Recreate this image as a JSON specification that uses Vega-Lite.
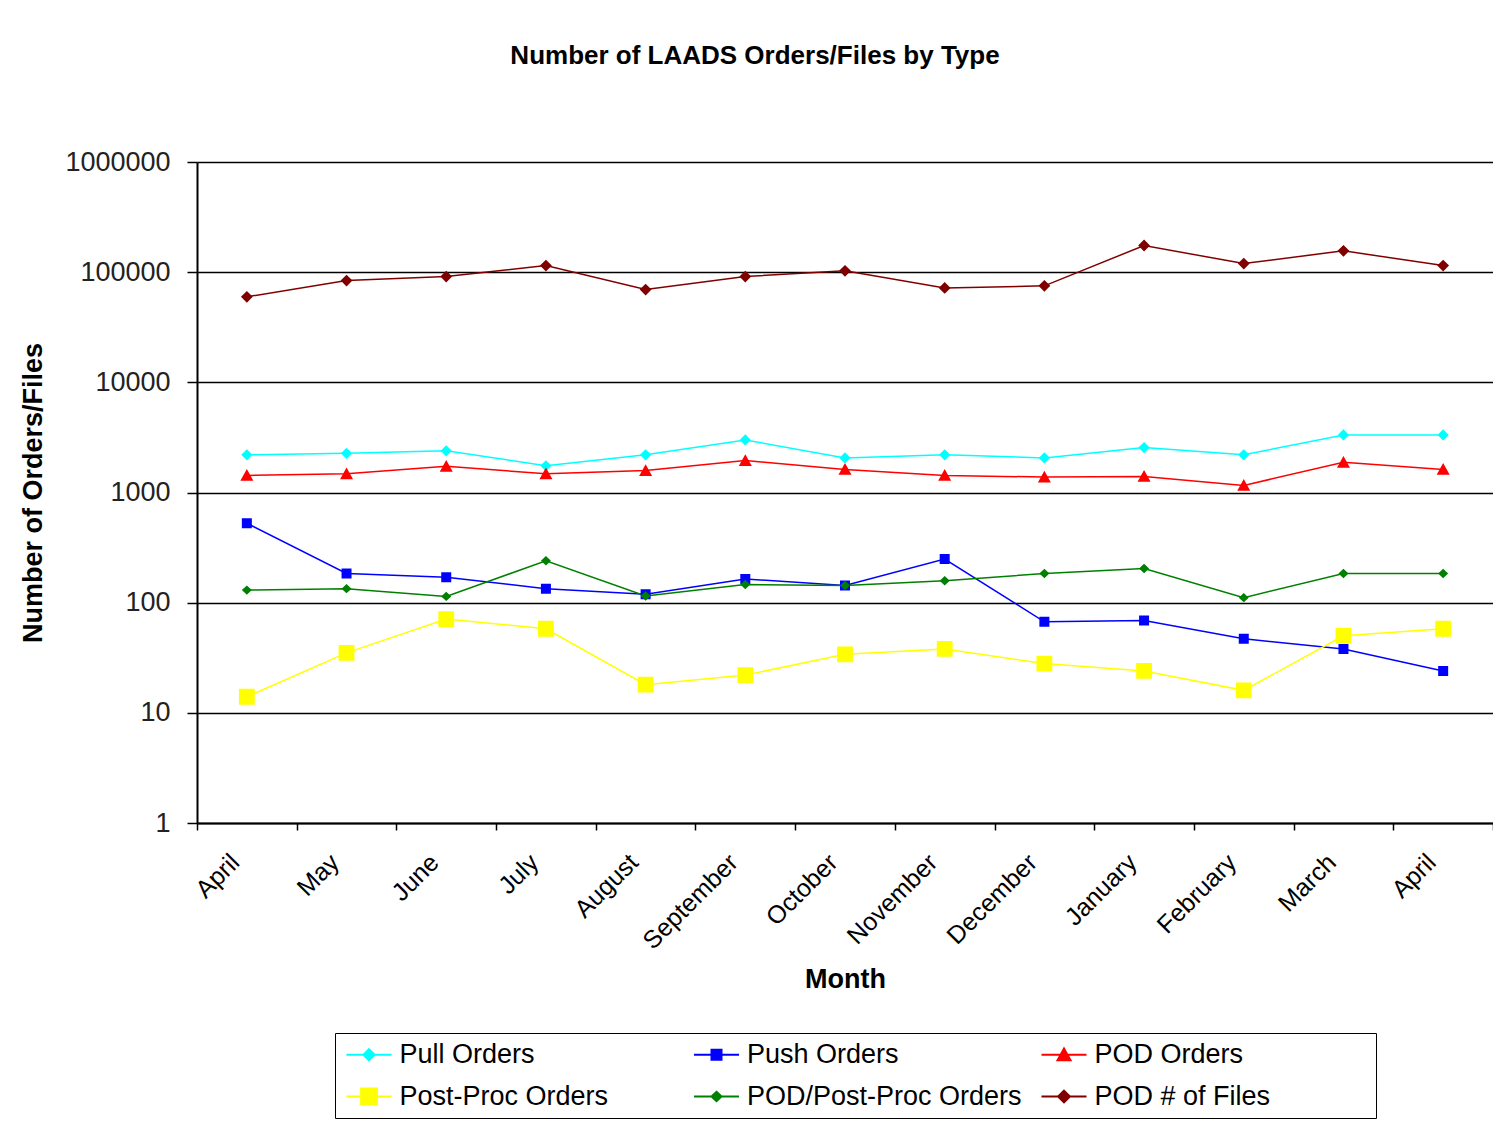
{
  "$schema": "https://vega.github.io/schema/vega-lite/v6.json",
  "width": 1296,
  "height": 661,
  "padding": {"left": 19, "top": 43, "right": 0, "bottom": 0},
  "background": "white",
  "title": {"text": "Number of LAADS Orders/Files by Type", "fontSize": 26, "fontWeight": "bold", "font": "Liberation Sans", "color": "black", "anchor": "middle", "dx": -90, "offset": 79},
  "data": {"values": [
    {"month": "April_1", "series": "Pull Orders", "value": 2200},
    {"month": "May", "series": "Pull Orders", "value": 2270},
    {"month": "June", "series": "Pull Orders", "value": 2390},
    {"month": "July", "series": "Pull Orders", "value": 1750},
    {"month": "August", "series": "Pull Orders", "value": 2200},
    {"month": "September", "series": "Pull Orders", "value": 3000},
    {"month": "October", "series": "Pull Orders", "value": 2060},
    {"month": "November", "series": "Pull Orders", "value": 2200},
    {"month": "December", "series": "Pull Orders", "value": 2060},
    {"month": "January", "series": "Pull Orders", "value": 2560},
    {"month": "February", "series": "Pull Orders", "value": 2200},
    {"month": "March", "series": "Pull Orders", "value": 3330},
    {"month": "April_2", "series": "Pull Orders", "value": 3330},
    {"month": "April_1", "series": "Push Orders", "value": 526},
    {"month": "May", "series": "Push Orders", "value": 184},
    {"month": "June", "series": "Push Orders", "value": 170},
    {"month": "July", "series": "Push Orders", "value": 134},
    {"month": "August", "series": "Push Orders", "value": 119},
    {"month": "September", "series": "Push Orders", "value": 164},
    {"month": "October", "series": "Push Orders", "value": 143},
    {"month": "November", "series": "Push Orders", "value": 249},
    {"month": "December", "series": "Push Orders", "value": 67},
    {"month": "January", "series": "Push Orders", "value": 69},
    {"month": "February", "series": "Push Orders", "value": 47},
    {"month": "March", "series": "Push Orders", "value": 38},
    {"month": "April_2", "series": "Push Orders", "value": 24},
    {"month": "April_1", "series": "POD Orders", "value": 1430},
    {"month": "May", "series": "POD Orders", "value": 1480},
    {"month": "June", "series": "POD Orders", "value": 1730},
    {"month": "July", "series": "POD Orders", "value": 1480},
    {"month": "August", "series": "POD Orders", "value": 1580},
    {"month": "September", "series": "POD Orders", "value": 1950},
    {"month": "October", "series": "POD Orders", "value": 1620},
    {"month": "November", "series": "POD Orders", "value": 1430},
    {"month": "December", "series": "POD Orders", "value": 1380},
    {"month": "January", "series": "POD Orders", "value": 1400},
    {"month": "February", "series": "POD Orders", "value": 1160},
    {"month": "March", "series": "POD Orders", "value": 1880},
    {"month": "April_2", "series": "POD Orders", "value": 1620},
    {"month": "April_1", "series": "Post-Proc Orders", "value": 14},
    {"month": "May", "series": "Post-Proc Orders", "value": 35},
    {"month": "June", "series": "Post-Proc Orders", "value": 71},
    {"month": "July", "series": "Post-Proc Orders", "value": 58},
    {"month": "August", "series": "Post-Proc Orders", "value": 18},
    {"month": "September", "series": "Post-Proc Orders", "value": 22},
    {"month": "October", "series": "Post-Proc Orders", "value": 34},
    {"month": "November", "series": "Post-Proc Orders", "value": 38},
    {"month": "December", "series": "Post-Proc Orders", "value": 28},
    {"month": "January", "series": "Post-Proc Orders", "value": 24},
    {"month": "February", "series": "Post-Proc Orders", "value": 16},
    {"month": "March", "series": "Post-Proc Orders", "value": 50},
    {"month": "April_2", "series": "Post-Proc Orders", "value": 58},
    {"month": "April_1", "series": "POD/Post-Proc Orders", "value": 130},
    {"month": "May", "series": "POD/Post-Proc Orders", "value": 134},
    {"month": "June", "series": "POD/Post-Proc Orders", "value": 114},
    {"month": "July", "series": "POD/Post-Proc Orders", "value": 240},
    {"month": "August", "series": "POD/Post-Proc Orders", "value": 115},
    {"month": "September", "series": "POD/Post-Proc Orders", "value": 146},
    {"month": "October", "series": "POD/Post-Proc Orders", "value": 143},
    {"month": "November", "series": "POD/Post-Proc Orders", "value": 158},
    {"month": "December", "series": "POD/Post-Proc Orders", "value": 184},
    {"month": "January", "series": "POD/Post-Proc Orders", "value": 204},
    {"month": "February", "series": "POD/Post-Proc Orders", "value": 111},
    {"month": "March", "series": "POD/Post-Proc Orders", "value": 184},
    {"month": "April_2", "series": "POD/Post-Proc Orders", "value": 184},
    {"month": "April_1", "series": "POD # of Files", "value": 59700},
    {"month": "May", "series": "POD # of Files", "value": 83900},
    {"month": "June", "series": "POD # of Files", "value": 91200},
    {"month": "July", "series": "POD # of Files", "value": 114800},
    {"month": "August", "series": "POD # of Files", "value": 69500},
    {"month": "September", "series": "POD # of Files", "value": 91200},
    {"month": "October", "series": "POD # of Files", "value": 102800},
    {"month": "November", "series": "POD # of Files", "value": 72000},
    {"month": "December", "series": "POD # of Files", "value": 75100},
    {"month": "January", "series": "POD # of Files", "value": 174600},
    {"month": "February", "series": "POD # of Files", "value": 119700},
    {"month": "March", "series": "POD # of Files", "value": 156200},
    {"month": "April_2", "series": "POD # of Files", "value": 114800}
  ]},
  "encoding": {
    "x": {
      "field": "month", "type": "ordinal", "sort": null, "bandPosition": 0.5,
      "scale": {"type": "band", "paddingInner": 0, "paddingOuter": 0},
      "axis": {"title": "Month", "titleFontSize": 27, "titleFontWeight": "bold", "titleColor": "black", "titlePadding": 13,
        "labelAngle": -45, "labelAlign": "right", "labelBaseline": "middle", "labelFontSize": 25, "labelColor": "black",
        "labelExpr": "datum.label ? split(datum.label, '_')[0] : ''", "labelOffset": -12,
        "tickBand": "extent", "tickSize": 7, "tickColor": "black", "tickWidth": 1.5, "domainColor": "black", "domainWidth": 2,
        "labelPadding": 28, "grid": false}
    },
    "y": {
      "field": "value", "type": "quantitative",
      "scale": {"type": "log", "domain": [1, 1000000], "nice": false},
      "axis": {"title": "Number of Orders/Files", "titleFontSize": 27, "titleFontWeight": "bold", "titleColor": "black", "titlePadding": 17,
        "values": [1, 10, 100, 1000, 10000, 100000, 1000000], "format": "d",
        "labelFontSize": 27, "labelColor": "#222222", "labelPadding": 17, "tickSize": 10, "tickColor": "black", "tickWidth": 1.5,
        "grid": true, "gridColor": "black", "gridWidth": 1.5, "gridOpacity": 1, "domainColor": "black", "domainWidth": 2}
    },
    "color": {"field": "series", "type": "nominal",
      "scale": {"domain": ["Pull Orders", "Push Orders", "POD Orders", "Post-Proc Orders", "POD/Post-Proc Orders", "POD # of Files"],
                "range": ["#00FFFF", "#0000FF", "#FF0000", "#FFFF00", "#008000", "#800000"]},
      "legend": {"title": null, "orient": "none", "legendX": 138, "legendY": 871, "columns": 3, "direction": "horizontal", "gridAlign": "all",
        "columnPadding": 14.5, "rowPadding": 14, "padding": 8, "strokeColor": "black", "fillColor": "white",
        "labelFont": "Liberation Sans", "labelFontSize": 27, "labelColor": "black", "labelOffset": 17, "labelLimit": 500,
        "labelExpr": "datum.label == 'POD # of Files' ? datum.label + '\u00a0\u00a0\u00a0\u00a0\u00a0\u00a0\u00a0\u00a0\u00a0\u00a0\u00a0\u00a0\u00a0\u200b' : datum.label",
        "symbolSize": 400, "symbolStrokeWidth": 2, "symbolOpacity": 1, "symbolOffset": 12.5,
        "encode": {"symbols": {"update": {"stroke": {"scale": "color", "field": "value"}, "strokeWidth": {"value": 2}, "strokeOpacity": {"value": 1}}}}}
    }
  },
  "layer": [
    {
      "mark": {"type": "line", "strokeWidth": 1.5}
    },
    {
      "mark": {"type": "point", "filled": true, "size": 400, "opacity": 1},
      "encoding": {
        "shape": {"field": "series", "type": "nominal",
          "scale": {"domain": ["Pull Orders", "Push Orders", "POD Orders", "Post-Proc Orders", "POD/Post-Proc Orders", "POD # of Files"],
                    "range": [
                      "M-2.25,0H2.25M0,-0.56L0.56,0L0,0.56L-0.56,0Z",
                      "M-2.25,0H2.25M-0.5,-0.5H0.5V0.5H-0.5Z",
                      "M-2.25,0H2.25M0,-0.63L0.65,0.54H-0.65Z",
                      "M-2.25,0H2.25M-0.79,-0.79H0.79V0.79H-0.79Z",
                      "M-2.25,0H2.25M0,-0.47L0.5,0L0,0.47L-0.5,0Z",
                      "M-2.25,0H2.25M0,-0.59L0.59,0L0,0.59L-0.59,0Z"
                    ]},
          "legend": {"title": null, "orient": "none", "legendX": 138, "legendY": 871, "columns": 3, "direction": "horizontal", "gridAlign": "all",
            "columnPadding": 14.5, "rowPadding": 14, "padding": 8, "strokeColor": "black", "fillColor": "white",
            "labelFont": "Liberation Sans", "labelFontSize": 27, "labelColor": "black", "labelOffset": 17, "labelLimit": 500,
            "labelExpr": "datum.label == 'POD # of Files' ? datum.label + '\u00a0\u00a0\u00a0\u00a0\u00a0\u00a0\u00a0\u00a0\u00a0\u00a0\u00a0\u00a0\u00a0\u200b' : datum.label",
            "symbolSize": 400, "symbolStrokeWidth": 2, "symbolOpacity": 1, "symbolOffset": 12.5,
            "encode": {"symbols": {"update": {"stroke": {"scale": "color", "field": "value"}, "strokeWidth": {"value": 2}, "strokeOpacity": {"value": 1}}}}}
        }
      }
    }
  ],
  "config": {
    "font": "Liberation Sans",
    "view": {"stroke": null}
  }
}
